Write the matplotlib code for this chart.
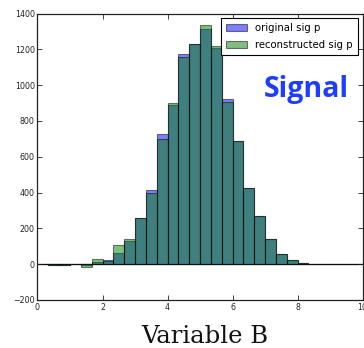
import numpy as np
import matplotlib
matplotlib.use("Agg")
import matplotlib.pyplot as plt

# Histogram bin edges for Variable B (30 bins over 0..10)
bin_lo = 0.0
bin_hi = 10.0
n_bins = 30

# Per-bin counts (unfolded values may dip below zero)
original_sig_p = [3, -5, -5, 0, -3, 12, 21, 64, 130, 260, 415, 725, 890, 1175,
                  1232, 1315, 1205, 920, 690, 428, 270, 143, 56, 26, 9, 3,
                  0, 0, 0, 0]
reconstructed_sig_p = [2, -4, -5, 0, -17, 28, 18, 105, 138, 260, 400, 697, 900,
                       1160, 1232, 1335, 1218, 905, 690, 428, 270, 143, 56, 26,
                       9, 1, 0, 0, 0, 0]

series_labels = ["original sig p", "reconstructed sig p"]
x_ticks = [0, 2, 4, 6, 8, 10]
y_ticks = [-200, 0, 200, 400, 600, 800, 1000, 1200, 1400]

edges = np.linspace(bin_lo, bin_hi, n_bins + 1)
width = edges[1] - edges[0]

fig = plt.figure(figsize=(3.64, 3.48), dpi=100)
fig.patch.set_facecolor("white")
ax = fig.add_axes([0.103, 0.138, 0.893, 0.823])

ax.bar(edges[:-1], original_sig_p, width=width, align="edge",
       color="blue", alpha=0.5, edgecolor="black", linewidth=0.8,
       label=series_labels[0])
ax.bar(edges[:-1], reconstructed_sig_p, width=width, align="edge",
       color="green", alpha=0.5, edgecolor="black", linewidth=0.8,
       label=series_labels[1])
ax.axhline(0, color="#333333", linewidth=0.9, zorder=0.5)

ax.set_xlim(bin_lo, bin_hi)
ax.set_ylim(-200, 1400)
ax.set_xticks(x_ticks)
ax.set_yticks(y_ticks)
ax.tick_params(direction="in", top=True, right=True, length=3.5,
               width=0.6, labelsize=5.7, colors="#222222", pad=2)
ax.set_xticklabels([str(t) for t in x_ticks])
ax.set_yticklabels(["\u2212200" if t < 0 else str(t) for t in y_ticks])
for s in ax.spines.values():
    s.set_linewidth(0.9)
    s.set_color("#222222")

leg = ax.legend(loc="upper right", fontsize=7.3, fancybox=False,
                framealpha=1, edgecolor="black", borderpad=0.5,
                handlelength=2.1, handleheight=0.7, labelspacing=0.65,
                handletextpad=0.8, borderaxespad=0.45)
leg.get_frame().set_linewidth(0.8)

ax.text(0.826, 0.708, "Signal", transform=ax.transAxes, ha="center",
        va="baseline", fontsize=20.5, fontweight="bold", color="#1f3dff",
        family="Open Sans")

fig.text(0.562, 0.0144, "Variable B", ha="center", va="baseline",
         fontsize=17.5, family="DejaVu Serif", color="#111111")

fig.savefig("out.png", dpi=100, facecolor="white")
